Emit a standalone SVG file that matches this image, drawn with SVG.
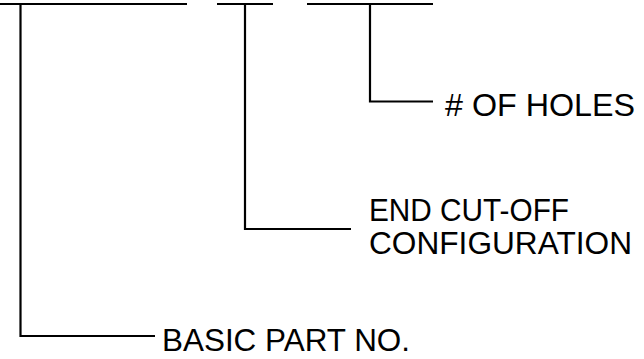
<svg xmlns="http://www.w3.org/2000/svg" width="644" height="359" viewBox="0 0 644 359">
<style>
.ln{stroke:#000;stroke-width:2.2;fill:none}
.lbl{font-family:"Liberation Sans",Arial,sans-serif;font-size:32px;fill:#000}
</style>
<rect width="644" height="359" fill="#fff"/>
<g id="segments">
<line id="seg1" class="ln" x1="0" y1="4" x2="187" y2="4"/>
<line id="seg2" class="ln" x1="217" y1="4" x2="273" y2="4"/>
<line id="seg3" class="ln" x1="307" y1="4" x2="433" y2="4"/>
</g>
<g id="connectors">
<polyline class="ln" points="20.5,4 20.5,336 155,336"/>
<polyline class="ln" points="245,4 245,229 351,229"/>
<polyline class="ln" points="370,4 370,101.5 433,101.5"/>
</g>
<g id="holes"><text class="lbl" x="445" y="116" textLength="190" lengthAdjust="spacingAndGlyphs"># OF HOLES</text></g>
<g id="endcut"><text class="lbl" x="369" y="221" textLength="200" lengthAdjust="spacingAndGlyphs">END CUT-OFF</text>
<text class="lbl" x="369" y="254" textLength="263" lengthAdjust="spacingAndGlyphs">CONFIGURATION</text></g>
<g id="basic"><text class="lbl" x="162" y="351" textLength="248" lengthAdjust="spacingAndGlyphs">BASIC PART NO.</text></g>
</svg>
